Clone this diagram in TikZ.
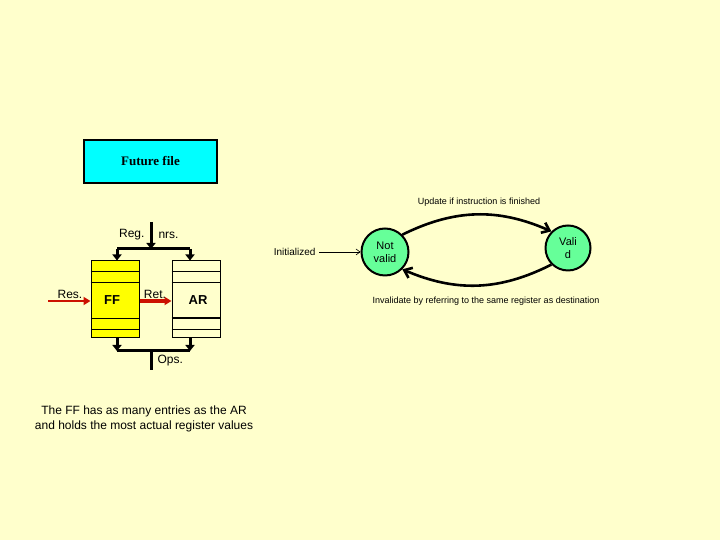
\documentclass[tikz,border=0pt]{standalone}
\usepackage{fontspec}
\setmainfont{Liberation Sans}
\newfontfamily\titlefont{Liberation Serif}
\usepackage{xcolor}
\usetikzlibrary{arrows.meta, positioning}
\definecolor{pagebg}{HTML}{FFFFCC}
\definecolor{ffcyan}{HTML}{00FFFF}
\definecolor{ffyellow}{HTML}{FFFF00}
\definecolor{stategreen}{HTML}{66FF99}
\definecolor{retred}{HTML}{CC1100}

\begin{document}
\begin{tikzpicture}[
    x=1pt, y=1pt,
    titlebox/.style={draw, line width=1.8pt, fill=ffcyan, minimum width=133pt, minimum height=43pt, font=\titlefont\bfseries\fontsize{13}{15}\selectfont},
    regfile/.style={draw, line width=1pt, fill=#1, minimum width=48pt, minimum height=77pt, inner sep=0pt},
    regname/.style={font=\bfseries\fontsize{13}{15}\selectfont},
    lbl/.style={font=\fontsize{12}{15}\selectfont},
    bus/.style={line width=3pt},
    busarrow/.style={line width=3pt, -{Triangle[length=6pt, width=9pt]}},
    redarrow/.style={color=retred, -{Triangle[length=7pt, width=8pt]}},
    state/.style={circle, draw, line width=2pt, fill=stategreen, minimum size=#1, inner sep=0pt, align=center, font=\fontsize{11}{13}\selectfont},
    trans/.style={line width=2.6pt, -{Straight Barb[length=7pt, width=11pt]}},
    note/.style={font=\fontsize{9}{11}\selectfont},
]

% Background
\fill[pagebg] (0,0) rectangle (720,540);
\useasboundingbox (0,0) rectangle (720,540);

% Title
\node[titlebox] (title) at (150.5, 378.5) {Future file};

% Register files
\node[regfile=ffyellow] (ff) at (115, 240.5) {};
\node[regfile=pagebg] (ar) at (196, 240.5) {};
\node[regname] at (112, 240) {FF};
\node[regname] at (198, 240) {AR};

% Rows
\draw[line width=0.9pt] (ff.west |- 0,269) -- (ff.east |- 0,269);
\draw[line width=0.9pt] (ff.west |- 0,258) -- (ff.east |- 0,258);
\draw[line width=0.9pt] (ff.west |- 0,222) -- (ff.east |- 0,222);
\draw[line width=0.9pt] (ff.west |- 0,211) -- (ff.east |- 0,211);
\draw[line width=0.9pt] (ar.west |- 0,269) -- (ar.east |- 0,269);
\draw[line width=0.9pt] (ar.west |- 0,258) -- (ar.east |- 0,258);
\draw[line width=2pt] (ar.west |- 0,222) -- (ar.east |- 0,222);
\draw[line width=0.9pt] (ar.west |- 0,211) -- (ar.east |- 0,211);

% Register numbers in
\coordinate (regin) at (151, 318);
\coordinate (topbus) at (151, 291);
\draw[busarrow] (regin) -- (topbus);
\draw[bus] ([xshift=2pt]ff.north |- topbus) -- ([xshift=-6pt]ar.north |- topbus);
\draw[busarrow] ([xshift=2pt]ff.north |- topbus) -- ([xshift=2pt]ff.north);
\draw[busarrow] ([xshift=-6pt]ar.north |- topbus) -- ([xshift=-6pt]ar.north);
\node[lbl, anchor=east] (reg) at (148, 305) {Reg.};
\node[lbl, anchor=west] (nrs) at (155, 305) {nrs.};

% Operands out
\coordinate (botbus) at (151, 189);
\coordinate (opsout) at (151, 170);
\draw[busarrow] ([xshift=2pt]ff.south) -- ([xshift=2pt]ff.south |- botbus);
\draw[busarrow] ([xshift=-6pt]ar.south) -- ([xshift=-6pt]ar.south |- botbus);
\draw[bus] ([xshift=2pt]ff.south |- botbus) -- ([xshift=-6pt]ar.south |- botbus);
\draw[bus] (botbus) -- (opsout);
\node[lbl, anchor=west] (ops) at (154, 179) {Ops.};

% Results and retire
\coordinate (resin) at (48, 239);
\draw[redarrow, line width=2pt] (resin) -- (ff.west |- resin);
\draw[redarrow, line width=3.5pt] (ff.east |- resin) -- (ar.west |- resin);
\node[lbl] (res) at (70, 246) {Res.};
\node[lbl] (ret) at (155, 246) {Ret.};

% Caption
\node[lbl, align=center] (caption) at (144, 121) {The FF has as many entries as the AR\\and holds the most actual register values};

% State diagram
\node[state=47pt] (notvalid) at (385, 288) {Not\\valid};
\node[state=45pt] (valid) at (568, 292) {Vali\\d};
\draw[trans] (notvalid.north east) to[bend left=25] (valid.north west);
\draw[trans] (valid.south west) to[bend left=25] (notvalid.south east);
\node[font=\fontsize{10}{12}\selectfont, anchor=east] (init) at (319, 288) {Initialized};
\draw[line width=0.6pt, -{Straight Barb[length=4pt, width=6pt]}] (init.east) -- (notvalid.west);
\node[note] (update) at (479, 338) {Update if instruction is finished};
\node[note] (invalidate) at (486, 239) {Invalidate by referring to the same register as destination};

\end{tikzpicture}
\end{document}
